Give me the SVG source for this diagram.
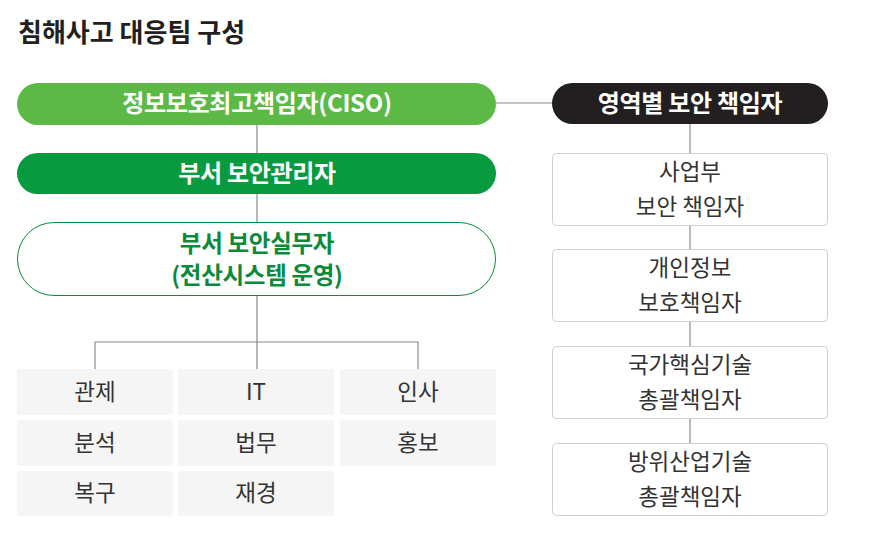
<svg xmlns="http://www.w3.org/2000/svg" width="895" height="546" viewBox="0 0 895 546">
<style>
text{font-family:"Noto Sans CJK KR","Noto Sans",sans-serif;text-anchor:middle}
.title{font-size:26px;font-weight:700;fill:#231f20;text-anchor:start}
.w{font-size:24px;font-weight:700;fill:#fff;letter-spacing:-0.3px}
.g{font-size:23.5px;font-weight:700;fill:#0a8a3a;letter-spacing:-0.3px}
.t{font-size:22.5px;fill:#333}
.cell{fill:#f5f5f5}
.box{fill:#fff;stroke:#cfcfcf;stroke-width:1}
.c{fill:none;stroke:#8a8a8a;stroke-width:1.2}
</style>
<rect width="895" height="546" fill="#fff"/>
<text class="title" x="18" y="42">침해사고 대응팀 구성</text>
<g id="connectors">
<path class="c" d="M496 103H553"/>
<path class="c" d="M257 125V153M257 194V222M257 296V342"/>
<path class="c" d="M95 369V342H418V369M257 342V369"/>
<path class="c" d="M690 124V153M690 226V249M690 322V346M690 419V443"/>
</g>
<g id="ciso"><rect x="17" y="83" width="479" height="42" rx="21" fill="#5cb946"/><text class="w" x="257" y="112">정보보호최고책임자(CISO)</text></g>
<g id="dept-manager"><rect x="17" y="153" width="479" height="41" rx="20.5" fill="#079a3e"/><text class="w" x="257" y="182">부서 보안관리자</text></g>
<g id="dept-staff"><rect x="17.5" y="222.5" width="478" height="73" rx="36.5" fill="#fff" stroke="#0a8a3a" stroke-width="1"/><text class="g" x="257" y="252">부서 보안실무자</text><text class="g" x="257" y="284">(전산시스템 운영)</text></g>
<g id="cell-1"><rect class="cell" x="17" y="369" width="156" height="46" rx="3"/><text class="t" x="95" y="400">관제</text></g>
<g id="cell-2"><rect class="cell" x="178" y="369" width="156" height="46" rx="3"/><text class="t" x="256" y="400">IT</text></g>
<g id="cell-3"><rect class="cell" x="340" y="369" width="156" height="46" rx="3"/><text class="t" x="418" y="400">인사</text></g>
<g id="cell-4"><rect class="cell" x="17" y="420" width="156" height="46" rx="3"/><text class="t" x="95" y="451">분석</text></g>
<g id="cell-5"><rect class="cell" x="178" y="420" width="156" height="46" rx="3"/><text class="t" x="256" y="451">법무</text></g>
<g id="cell-6"><rect class="cell" x="340" y="420" width="156" height="46" rx="3"/><text class="t" x="418" y="451">홍보</text></g>
<g id="cell-7"><rect class="cell" x="17" y="471" width="156" height="45" rx="3"/><text class="t" x="95" y="501">복구</text></g>
<g id="cell-8"><rect class="cell" x="178" y="471" width="156" height="45" rx="3"/><text class="t" x="256" y="501">재경</text></g>
<g id="area-head"><rect x="552" y="83" width="276" height="41" rx="20.5" fill="#231f20"/><text class="w" x="690" y="112">영역별 보안 책임자</text></g>
<g id="area-1"><rect class="box" x="552.5" y="153.5" width="275" height="72" rx="4"/><text class="t" x="690" y="180">사업부</text><text class="t" x="690" y="215">보안 책임자</text></g>
<g id="area-2"><rect class="box" x="552.5" y="249.5" width="275" height="72" rx="4"/><text class="t" x="690" y="276">개인정보</text><text class="t" x="690" y="311">보호책임자</text></g>
<g id="area-3"><rect class="box" x="552.5" y="346.5" width="275" height="72" rx="4"/><text class="t" x="690" y="373">국가핵심기술</text><text class="t" x="690" y="408">총괄책임자</text></g>
<g id="area-4"><rect class="box" x="552.5" y="443.5" width="275" height="72" rx="4"/><text class="t" x="690" y="470">방위산업기술</text><text class="t" x="690" y="505">총괄책임자</text></g>
</svg>
